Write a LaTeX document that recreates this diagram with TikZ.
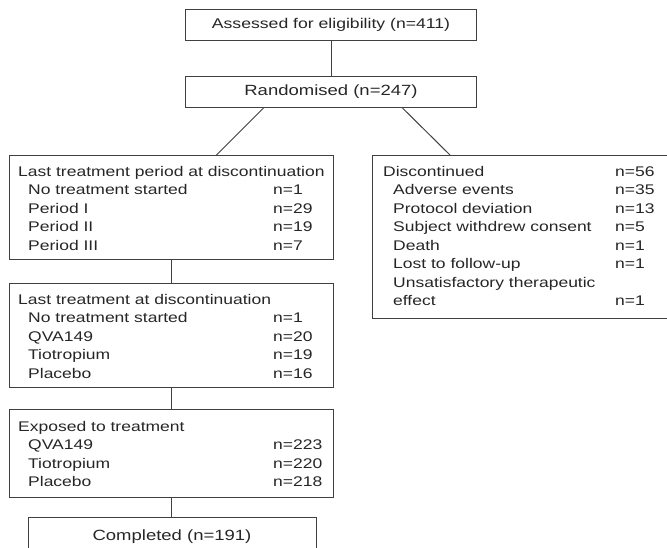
\documentclass[tikz,border=0pt]{standalone}
\usepackage{fontspec}
\setmainfont{Liberation Sans}[FakeStretch=1.25]
\begin{document}
\begin{tikzpicture}[x=1pt,y=-1pt,
  box/.style={draw=black!75, line width=1pt, rectangle, inner sep=0pt, anchor=north west},
  conn/.style={draw=black!75, line width=1pt},
  txt/.style={inner sep=0pt, anchor=base west, font=\fontsize{14}{16}\selectfont, text=black!85},
  ttl/.style={font=\fontsize{14.8}{17}\selectfont, text=black!85}]
\useasboundingbox (0,0) rectangle (667,547);
% title boxes
\node[box, ttl, font=\fontsize{14.1}{17}\selectfont, minimum width=291pt, minimum height=31pt] (ass) at (185,9) {Assessed for eligibility (n=411)};
\node[box, ttl, minimum width=291pt, minimum height=31pt] (ran) at (185,76) {Randomised (n=247)};
% left column boxes
\node[box, minimum width=324pt, minimum height=104pt] (per) at (9,155) {};
\node[box, minimum width=324pt, minimum height=104pt] (trt) at (9,283) {};
\node[box, minimum width=324pt, minimum height=88pt] (exp) at (9,409) {};
\node[box, minimum width=288pt, minimum height=45pt] (comp) at (28,517) {};
\node[ttl, inner sep=0pt, anchor=base] (compt) at (172,540.5) {Completed (n=191)};
% right box
\node[box, minimum width=310pt, minimum height=163pt] (disc) at (372,155) {};

% text: period box
\node[txt] (p0) at (18,176) {Last treatment period at discontinuation};
\node[txt] (p1) at (28,194.5) {No treatment started};
\node[txt] (p1n) at (273,194.5) {n=1};
\node[txt] (p2) at (28,213) {Period I};
\node[txt] (p2n) at (273,213) {n=29};
\node[txt] (p3) at (28,231.5) {Period II};
\node[txt] (p3n) at (273,231.5) {n=19};
\node[txt] (p4) at (28,250) {Period III};
\node[txt] (p4n) at (273,250) {n=7};
% text: treatment box
\node[txt] (t0) at (18,304) {Last treatment at discontinuation};
\node[txt] (t1) at (28,322.5) {No treatment started};
\node[txt] (t1n) at (273,322.5) {n=1};
\node[txt] (t2) at (28,341) {QVA149};
\node[txt] (t2n) at (273,341) {n=20};
\node[txt] (t3) at (28,359.5) {Tiotropium};
\node[txt] (t3n) at (273,359.5) {n=19};
\node[txt] (t4) at (28,378) {Placebo};
\node[txt] (t4n) at (273,378) {n=16};
% text: exposed box
\node[txt] (e0) at (18,431) {Exposed to treatment};
\node[txt] (e1) at (28,449.5) {QVA149};
\node[txt] (e1n) at (273,449.5) {n=223};
\node[txt] (e2) at (28,468) {Tiotropium};
\node[txt] (e2n) at (273,468) {n=220};
\node[txt] (e3) at (28,486.5) {Placebo};
\node[txt] (e3n) at (273,486.5) {n=218};
% text: discontinued box
\node[txt] (d0) at (383,176) {Discontinued};
\node[txt] (d0n) at (615,176) {n=56};
\node[txt] (d1) at (393,194.5) {Adverse events};
\node[txt] (d1n) at (615,194.5) {n=35};
\node[txt] (d2) at (393,213) {Protocol deviation};
\node[txt] (d2n) at (615,213) {n=13};
\node[txt] (d3) at (393,231.5) {Subject withdrew consent};
\node[txt] (d3n) at (615,231.5) {n=5};
\node[txt] (d4) at (393,250) {Death};
\node[txt] (d4n) at (615,250) {n=1};
\node[txt] (d5) at (393,268.5) {Lost to follow-up};
\node[txt] (d5n) at (615,268.5) {n=1};
\node[txt] (d6) at (393,287) {Unsatisfactory therapeutic};
\node[txt] (d7) at (393,305.5) {effect};
\node[txt] (d7n) at (615,305.5) {n=1};

% connectors
\draw[conn] (ass.south) -- (ran.north);
\draw[conn] ([xshift=-67.5pt]ran.south) -- ([xshift=45pt]per.north);
\draw[conn] ([xshift=71.5pt]ran.south) -- ([xshift=78pt]disc.north west);
\draw[conn] (per.south) -- (trt.north);
\draw[conn] (trt.south) -- (exp.north);
\draw[conn] (exp.south) -- (exp.south |- comp.north);
\end{tikzpicture}
\end{document}
